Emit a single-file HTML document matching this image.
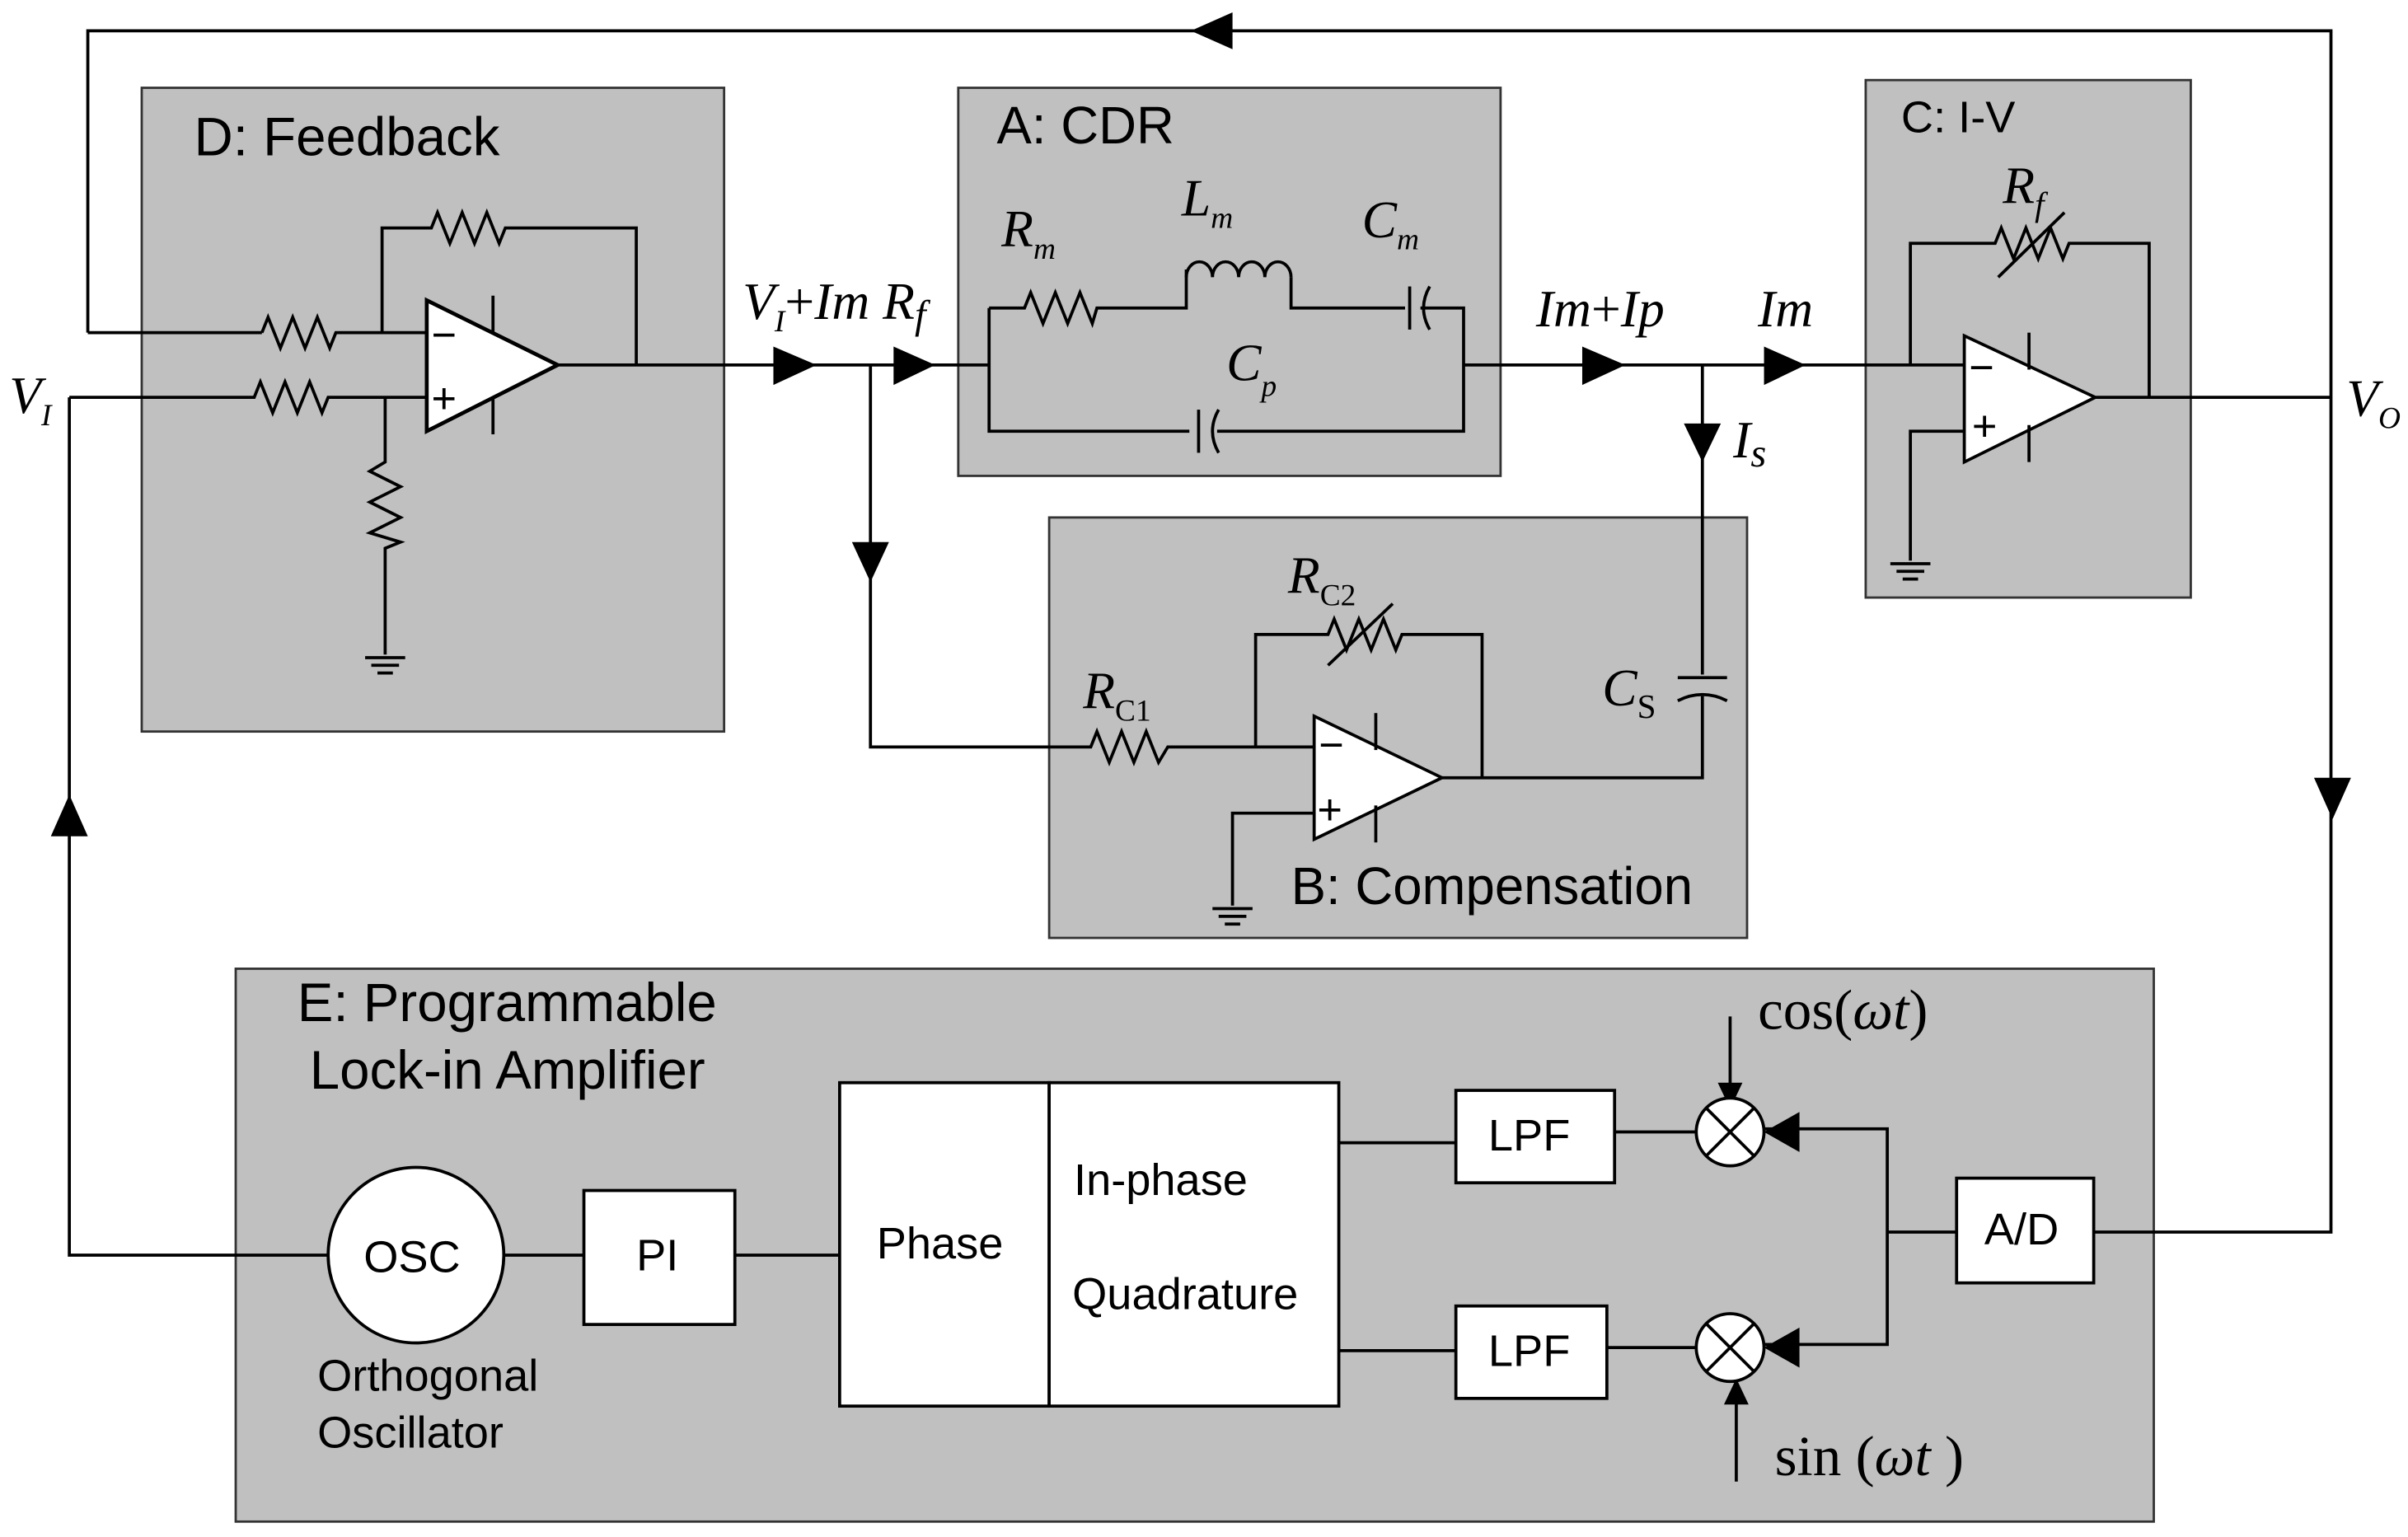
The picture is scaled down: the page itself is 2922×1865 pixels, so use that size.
<!DOCTYPE html>
<html><head><meta charset="utf-8"><style>
html,body{margin:0;padding:0;background:#fff;}
svg{display:block;}
.s{font-family:"Liberation Sans",sans-serif;}
.m{font-family:"Liberation Serif",serif;font-style:italic;}
</style></head><body>
<svg width="2922" height="1865" viewBox="0 0 1563 998" preserveAspectRatio="none" xmlns="http://www.w3.org/2000/svg">
<g stroke="#333" stroke-width="1.5" fill="#c0c0c0">
<rect x="92" y="57" width="378" height="418"/>
<rect x="622" y="57" width="352" height="252"/>
<rect x="1211" y="52" width="211" height="336"/>
<rect x="681" y="336" width="453" height="273"/>
<rect x="153" y="629" width="1245" height="359"/>
</g>
<g fill="none" stroke="#000" stroke-width="2">
<polyline points="57,216 57,20 1513,20 1513,800 1359,800"/>
<polyline points="45,258 45,815 213,815"/>
<polyline points="57,216 170,216"/>
<polyline points="170,216 174,206 182,226 190,206 198,226 206,206 214,226 218,216 277,216"/>
<polyline points="45,258 165,258 169,248 177,268 185,248 193,268 201,248 209,268 213,258 277,258"/>
<polyline points="248,216 248,148 280,148 284,138 292,158 300,138 308,158 316,138 324,158 328,148 413,148 413,237"/>
<polyline points="250,258 250,300 240,306 260,316 240,326 260,336 240,346 260,352 250,356 250,425"/>
<polyline points="362,237 642,237"/>
<polyline points="565,237 565,485 708,485 712,475 720,495 728,475 736,495 744,475 752,495 758,485 853,485"/>
<polyline points="642,200 642,280 772,280"/>
<polyline points="642,200 665,200 669,190 677,210 685,190 693,210 701,190 709,210 712,200 770,200 770,175"/>
<path d="M770,180 a8.5,10 0 0 1 17,0 a8.5,10 0 0 1 17,0 a8.5,10 0 0 1 17,0 a8.5,10 0 0 1 17,0"/>
<polyline points="838,180 838,200 912,200"/>
<line x1="915" y1="186" x2="915" y2="214"/>
<path d="M928,186 q-8,14 0,28"/>
<polyline points="922,200 950,200 950,280 790,280"/>
<line x1="778" y1="266" x2="778" y2="294"/>
<path d="M791,266 q-8,14 0,28"/>
<polyline points="950,237 1275,237"/>
<polyline points="1105,237 1105,438"/>
<line x1="1089" y1="440" x2="1121" y2="440"/>
<path d="M1089,455 q16,-8 32,0"/>
<polyline points="1105,452 1105,505 936,505"/>
<polygon points="853,465 853,545 936,505" fill="#fff"/>
<line x1="893" y1="463" x2="893" y2="487"/><line x1="893" y1="523" x2="893" y2="547"/>
<polyline points="815,485 815,412 862,412 866,402 874,422 882,402 890,422 898,402 906,422 910,412 962,412 962,505"/>
<line x1="862" y1="432" x2="904" y2="392"/>
<polyline points="853,528 800,528 800,588"/>
<polygon points="1275,218 1275,300 1360,258" fill="#fff"/>
<line x1="1317" y1="216" x2="1317" y2="240"/><line x1="1317" y1="276" x2="1317" y2="300"/>
<polyline points="1240,237 1240,158 1295,158 1299,148 1307,168 1315,148 1323,168 1331,148 1339,168 1343,158 1395,158 1395,258"/>
<line x1="1297" y1="180" x2="1340" y2="138"/>
<polyline points="1275,280 1240,280 1240,364"/>
<line x1="1360" y1="258" x2="1513" y2="258"/>
<polyline points="327,815 379,815"/>
<polyline points="477,815 545,815"/>
<polyline points="869,742 945,742"/>
<polyline points="869,877 945,877"/>
<polyline points="1048,735 1101,735"/>
<polyline points="1043,875 1101,875"/>
<polyline points="1145,733 1225,733 1225,873 1145,873"/>
<polyline points="1225,800 1270,800"/>
<line x1="1123" y1="660" x2="1123" y2="705"/>
<line x1="1127" y1="962" x2="1127" y2="910"/>
</g>
<g stroke="#000" stroke-width="2.5" fill="#fff">
<polygon points="277,195 277,280 362,237"/>
</g>
<g stroke="#000" stroke-width="2">
<line x1="320" y1="192" x2="320" y2="216"/><line x1="320" y1="258" x2="320" y2="282"/>
</g>
<g stroke="#000" stroke-width="2">
<line x1="237" y1="427" x2="263" y2="427"/><line x1="241" y1="432" x2="259" y2="432"/><line x1="245" y1="437" x2="255" y2="437"/>
<line x1="787" y1="590" x2="813" y2="590"/><line x1="791" y1="595" x2="809" y2="595"/><line x1="795" y1="600" x2="805" y2="600"/>
<line x1="1227" y1="366" x2="1253" y2="366"/><line x1="1231" y1="371" x2="1249" y2="371"/><line x1="1235" y1="376" x2="1245" y2="376"/>
</g>
<g font-family="Liberation Sans" font-size="28" fill="#000">
<text x="280" y="227">−</text><text x="280" y="268">+</text>
<text x="856" y="493">−</text><text x="855" y="535">+</text>
<text x="1278" y="248">−</text><text x="1280" y="286">+</text>
</g>
<g fill="#000">
<polygon points="773,20 800,8 800,32"/>
<polygon points="1502,505 1526,505 1514,532"/>
<polygon points="33,543 57,543 45,516"/>
<polygon points="502,225 502,250 530,237"/>
<polygon points="580,225 580,250 607,237"/>
<polygon points="553,352 577,352 565,378"/>
<polygon points="1027,225 1027,250 1055,237"/>
<polygon points="1145,225 1145,250 1172,237"/>
<polygon points="1093,275 1117,275 1105,300"/>
<polygon points="1145,735 1168,722 1168,748"/>
<polygon points="1145,875 1168,862 1168,888"/>
<polygon points="1115,703 1131,703 1123,720"/>
<polygon points="1119,912 1135,912 1127,895"/>
</g>
<g stroke="#000" stroke-width="2" fill="#fff">
<circle cx="270" cy="815" r="57"/>
<rect x="379" y="773" width="98" height="87"/>
<rect x="545" y="703" width="136" height="210"/>
<rect x="681" y="703" width="188" height="210"/>
<rect x="945" y="708" width="103" height="60"/>
<rect x="945" y="848" width="98" height="60"/>
<rect x="1270" y="765" width="89" height="68"/>
<circle cx="1123" cy="735" r="22"/>
<circle cx="1123" cy="875" r="22"/>
</g>
<g stroke="#000" stroke-width="2">
<line x1="1107" y1="719" x2="1139" y2="751"/><line x1="1139" y1="719" x2="1107" y2="751"/>
<line x1="1107" y1="859" x2="1139" y2="891"/><line x1="1139" y1="859" x2="1107" y2="891"/>
</g>
<g class="s" font-size="35" fill="#000">
<text x="126" y="101">D: Feedback</text>
<text x="647" y="93" font-size="34">A: CDR</text>
<text x="1234" y="86" font-size="29">C: I-V</text>
<text x="838" y="587" font-size="34">B: Compensation</text>
<text x="193" y="663">E: Programmable</text>
<text x="201" y="707">Lock-in Amplifier</text>
<text x="236" y="826" font-size="29">OSC</text>
<text x="413" y="825" font-size="29">PI</text>
<text x="569" y="817" font-size="29">Phase</text>
<text x="697" y="776" font-size="29">In-phase</text>
<text x="696" y="850" font-size="29">Quadrature</text>
<text x="966" y="747" font-size="29">LPF</text>
<text x="966" y="887" font-size="29">LPF</text>
<text x="1288" y="808" font-size="29">A/D</text>
<text x="206" y="903" font-size="29">Orthogonal</text>
<text x="206" y="940" font-size="29">Oscillator</text>
</g>
<g class="m" font-size="34" fill="#000">
<text x="6" y="268">V<tspan font-size="20" dy="8">I</tspan></text>
<text x="1523" y="270">V<tspan font-size="20" dy="8">O</tspan></text>
<text x="482" y="207">V<tspan font-size="20" dy="8">I</tspan><tspan dy="-8" font-style="normal">+</tspan>I<tspan>m</tspan> R<tspan font-size="26" dy="6">f</tspan></text>
<text x="650" y="160">R<tspan font-size="20" dy="8">m</tspan></text>
<text x="767" y="140">L<tspan font-size="20" dy="8">m</tspan></text>
<text x="884" y="154">C<tspan font-size="20" dy="8">m</tspan></text>
<text x="796" y="247">C<tspan font-size="20" dy="10">p</tspan></text>
<text x="997" y="212">I<tspan>m</tspan><tspan font-style="normal">+</tspan>I<tspan>p</tspan></text>
<text x="1141" y="212">I<tspan>m</tspan></text>
<text x="1125" y="297">I<tspan font-size="26" dy="6">s</tspan></text>
<text x="1300" y="132">R<tspan font-size="22" dy="8">f</tspan></text>
<text x="836" y="385">R<tspan font-size="20" dy="8" font-style="normal">C2</tspan></text>
<text x="703" y="460">R<tspan font-size="20" dy="8" font-style="normal">C1</tspan></text>
<text x="1040" y="458">C<tspan font-size="22" dy="8" font-style="normal">S</tspan></text>
<text x="1141" y="668" font-size="37" font-style="normal">cos(<tspan font-style="italic">ωt</tspan>)</text>
<text x="1152" y="958" font-size="37" font-style="normal">sin (<tspan font-style="italic">ωt</tspan> )</text>
</g>
</svg>
</body></html>
